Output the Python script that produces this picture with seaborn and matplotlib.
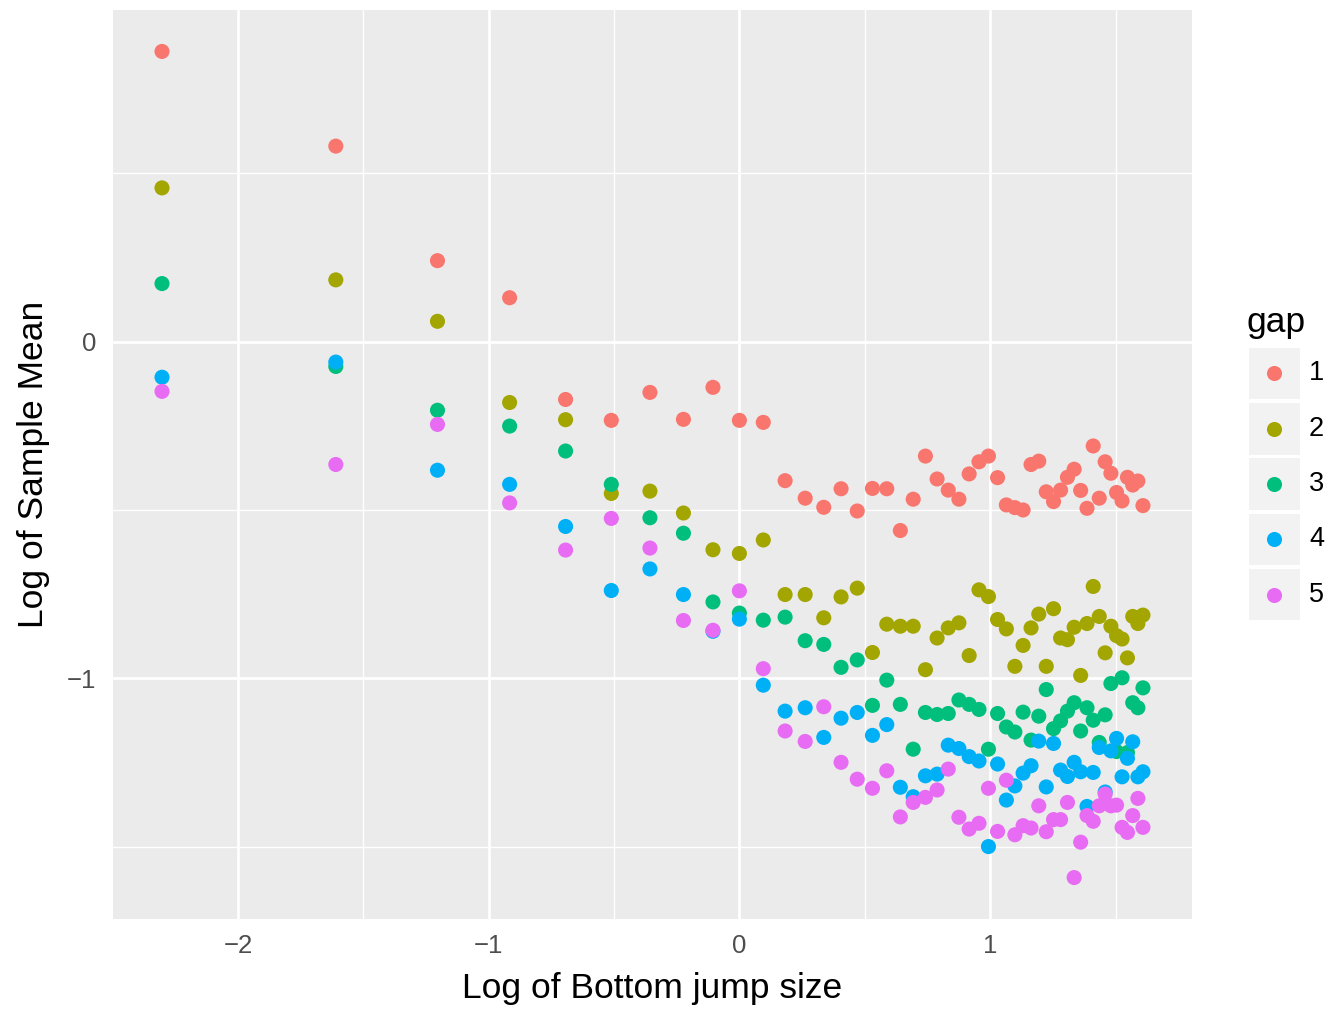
import numpy as np
import pandas as pd
import matplotlib
matplotlib.use("Agg")
import matplotlib.pyplot as plt
from matplotlib.patches import Rectangle
import seaborn as sns

# Bottom jump sizes used in the simulation
jump_size = [0.1, 0.2, 0.3, 0.4, 0.5, 0.6, 0.7, 0.8, 0.9, 1.0,
             1.1, 1.2, 1.3, 1.4, 1.5, 1.6, 1.7, 1.8, 1.9, 2.0,
             2.1, 2.2, 2.3, 2.4, 2.5, 2.6, 2.7, 2.8, 2.9, 3.0,
             3.1, 3.2, 3.3, 3.4, 3.5, 3.6, 3.7, 3.8, 3.9, 4.0,
             4.1, 4.2, 4.3, 4.4, 4.5, 4.6, 4.7, 4.8, 4.9, 5.0]

gap_levels = ["1", "2", "3", "4", "5"]

# Log of the sample mean, one list per gap
log_mean_gap1 = [0.861, 0.580, 0.240, 0.130, -0.172, -0.234, -0.151, -0.231, -0.136, -0.234,
                 -0.240, -0.413, -0.465, -0.492, -0.437, -0.503, -0.436, -0.437, -0.561, -0.468,
                 -0.340, -0.408, -0.441, -0.468, -0.393, -0.357, -0.340, -0.404, -0.485, -0.493,
                 -0.500, -0.365, -0.355, -0.446, -0.475, -0.441, -0.403, -0.379, -0.442, -0.495,
                 -0.310, -0.465, -0.357, -0.391, -0.448, -0.473, -0.403, -0.426, -0.414, -0.487]
log_mean_gap2 = [0.456, 0.183, 0.060, -0.181, -0.232, -0.451, -0.444, -0.509, -0.618, -0.629,
                 -0.589, -0.751, -0.751, -0.820, -0.758, -0.732, -0.923, -0.839, -0.845, -0.845,
                 -0.974, -0.880, -0.850, -0.835, -0.932, -0.737, -0.757, -0.825, -0.853, -0.964,
                 -0.902, -0.850, -0.809, -0.964, -0.793, -0.880, -0.885, -0.848, -0.991, -0.837,
                 -0.727, -0.816, -0.924, -0.845, -0.873, -0.883, -0.939, -0.816, -0.837, -0.812]
log_mean_gap3 = [0.172, -0.074, -0.204, -0.251, -0.325, -0.424, -0.523, -0.569, -0.773, -0.806,
                 -0.827, -0.818, -0.888, -0.899, -0.967, -0.945, -1.080, -1.005, -1.077, -1.210,
                 -1.101, -1.107, -1.104, -1.064, -1.077, -1.092, -1.210, -1.104, -1.144, -1.159,
                 -1.100, -1.183, -1.112, -1.033, -1.149, -1.126, -1.097, -1.072, -1.156, -1.087,
                 -1.124, -1.190, -1.108, -1.015, -1.217, -0.998, -1.220, -1.072, -1.087, -1.028]
log_mean_gap4 = [-0.106, -0.061, -0.382, -0.424, -0.549, -0.739, -0.675, -0.751, -0.860, -0.824,
                 -1.020, -1.097, -1.087, -1.175, -1.118, -1.101, -1.169, -1.137, -1.323, -1.351,
                 -1.289, -1.284, -1.198, -1.208, -1.232, -1.245, -1.499, -1.254, -1.361, -1.319,
                 -1.281, -1.259, -1.186, -1.322, -1.193, -1.272, -1.291, -1.249, -1.277, -1.380,
                 -1.279, -1.205, -1.337, -1.215, -1.178, -1.292, -1.237, -1.188, -1.292, -1.277]
log_mean_gap5 = [-0.148, -0.365, -0.246, -0.479, -0.619, -0.525, -0.613, -0.828, -0.857, -0.740,
                 -0.971, -1.156, -1.187, -1.084, -1.249, -1.299, -1.326, -1.274, -1.411, -1.368,
                 -1.353, -1.331, -1.269, -1.412, -1.447, -1.430, -1.326, -1.454, -1.302, -1.464,
                 -1.437, -1.444, -1.378, -1.455, -1.419, -1.419, -1.368, -1.591, -1.486, -1.407,
                 -1.424, -1.378, -1.343, -1.378, -1.376, -1.442, -1.457, -1.407, -1.356, -1.442]

gap_colors = ["#F8766D", "#A3A500", "#00BF7D", "#00B0F6", "#E76BF3"]

series = [log_mean_gap1, log_mean_gap2, log_mean_gap3, log_mean_gap4, log_mean_gap5]
frames = []
for g, vals in zip(gap_levels, series):
    frames.append(pd.DataFrame({
        "log_jump": np.log(np.array(jump_size)),
        "log_mean": vals,
        "gap": g,
    }))
df = pd.concat(frames, ignore_index=True)

sns.set_theme(style="white")
plt.rcParams["font.family"] = ["Liberation Sans", "DejaVu Sans"]
plt.rcParams["axes.unicode_minus"] = True

W, H = 1340, 1013
fig = plt.figure(figsize=(W / 100, H / 100), dpi=100)
fig.patch.set_facecolor("white")

pl, pr, pt, pb = 113, 1192, 10, 919
ax = fig.add_axes([pl / W, 1 - pb / H, (pr - pl) / W, (pb - pt) / H])

sns.scatterplot(data=df, x="log_jump", y="log_mean", hue="gap",
                hue_order=gap_levels, palette=gap_colors,
                s=118, linewidth=0, legend=False, ax=ax, zorder=3)

ax.set_xlim(-2.498, 1.805)
ax.set_ylim(-1.714, 0.984)
ax.set_facecolor("#EBEBEB")
for sp in ax.spines.values():
    sp.set_visible(False)

ax.set_xticks([-2, -1, 0, 1])
ax.set_xticks([-1.5, -0.5, 0.5, 1.5], minor=True)
ax.set_yticks([-1, 0])
ax.set_yticks([-1.5, -0.5, 0.5], minor=True)
ax.set_xticklabels(["\u22122", "\u22121", "0", "1"])
ax.set_yticklabels(["\u22121", "0"])

ax.grid(which="major", color="white", linewidth=2.0)
ax.grid(which="minor", color="white", linewidth=1.0)
ax.set_axisbelow(True)

ax.tick_params(which="major", length=5.5, width=1.5, color="#333333",
               labelcolor="#4D4D4D", labelsize=18.5, pad=5.5)
ax.tick_params(axis="y", which="major", pad=6.5)
ax.tick_params(which="minor", length=0)

ax.set_xlabel("Log of Bottom jump size", fontsize=25.5, color="black", labelpad=10)
ax.set_ylabel("Log of Sample Mean", fontsize=25.5, color="black", labelpad=12)

# Legend drawn in pixel coordinates on an overlay
lax = fig.add_axes([0, 0, 1, 1], zorder=5)
lax.set_xlim(0, W)
lax.set_ylim(H, 0)
lax.axis("off")
lax.text(1246, 322, "gap", fontsize=25.5, ha="left", va="center", color="black")
key_top = 347.7
key_step = 55.3
key_size = 51.5
for i, (g, c) in enumerate(zip(gap_levels, gap_colors)):
    top = key_top + i * key_step
    lax.add_patch(Rectangle((1248.5, top), key_size, key_size,
                            facecolor="#F2F2F2", edgecolor="none"))
    lax.scatter([1248.5 + key_size / 2], [top + key_size / 2], s=118,
                color=c, linewidth=0)
    lax.text(1309, top + key_size / 2, g, fontsize=19.5, ha="left",
             va="center", color="black")

fig.savefig("out.png", dpi=100)
